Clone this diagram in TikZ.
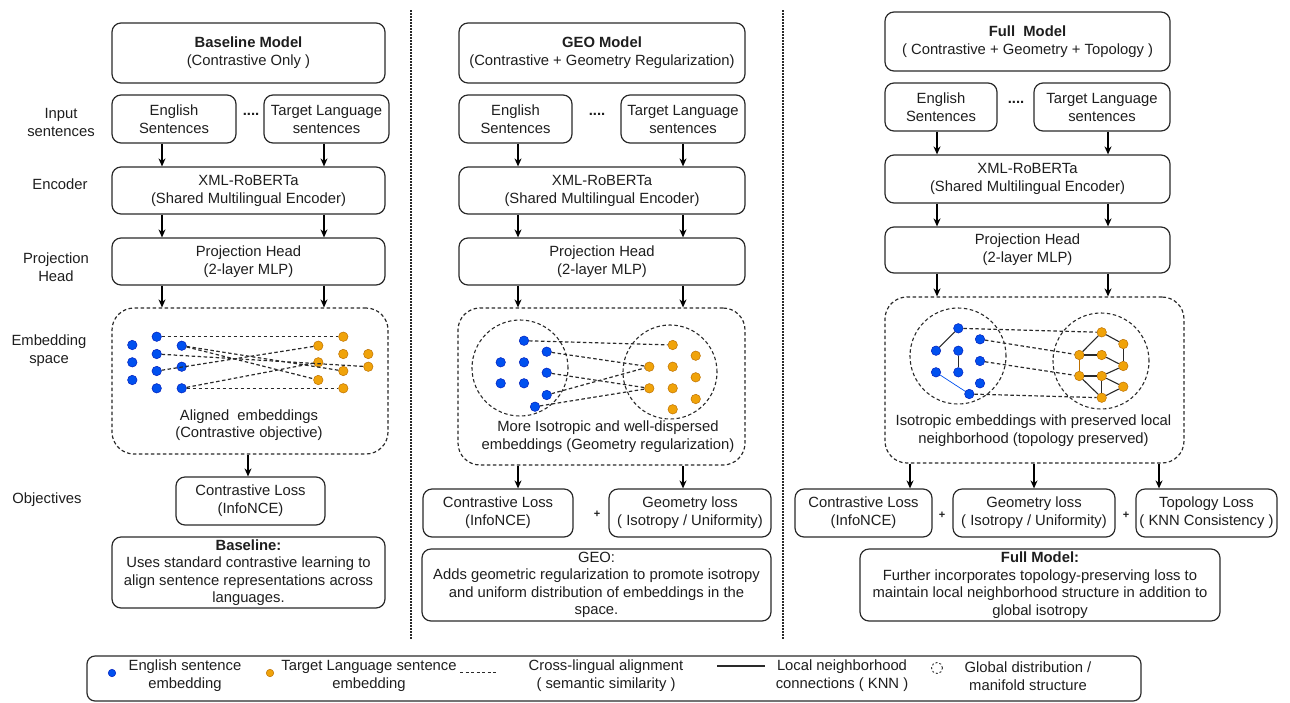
\documentclass[tikz,border=0pt]{standalone}
\usepackage{fontspec}
\setmainfont{Liberation Sans}
\usetikzlibrary{arrows.meta}
\definecolor{bfill}{HTML}{0050EF}
\definecolor{bdraw}{HTML}{001DBC}
\definecolor{ofill}{HTML}{F0A30A}
\definecolor{odraw}{HTML}{BD7000}
\definecolor{txt}{HTML}{1E1E1E}
\definecolor{ln}{HTML}{2A2A2A}
\newcommand\fs{\fontsize{14.8}{18}\selectfont}
\newcommand\fsd{\fontsize{14.8}{17.5}\selectfont}
\begin{document}
\begin{tikzpicture}[x=1pt,y=-1pt,
 box/.style={draw=ln, rounded corners=9pt, line width=1.2pt, align=center, inner sep=1pt, font=\fs, text=txt},
 descbox/.style={box, font=\fsd},
 embbox/.style={draw=ln, dash pattern=on 3.5pt off 2.5pt, rounded corners=22pt, line width=1.2pt},
 ring/.style={circle, draw=ln, dash pattern=on 3.5pt off 2.5pt, line width=1.1pt, inner sep=0pt},
 lbl/.style={align=center, font=\fs, text=txt, inner sep=0pt},
 bdot/.style={circle, fill=bfill, draw=bdraw, line width=0.5pt, inner sep=0pt, minimum size=9.5pt},
 odot/.style={circle, fill=ofill, draw=odraw, line width=0.5pt, inner sep=0pt, minimum size=9.5pt},
 xlink/.style={draw=ln, dash pattern=on 3.5pt off 2.5pt, line width=1.2pt},
 knn/.style={draw=ln, line width=1.1pt},
 arr/.style={draw=black, line width=1.2pt, -{Stealth[length=8pt,width=7pt]}},
 sep/.style={draw=ln, dash pattern=on 1.5pt off 1.5pt, line width=1.2pt},
 plus/.style={font=\fontsize{11}{13}\selectfont\bfseries, text=txt, inner sep=0pt},
]
\useasboundingbox (0,0) rectangle (1290,702);

% separators
\coordinate (s1a) at (411,10); \coordinate (s1b) at (411,640);
\coordinate (s2a) at (783,10); \coordinate (s2b) at (783,640);
\draw[sep] (s1a) -- (s1b);
\draw[sep] (s2a) -- (s2b);

% row labels
\node[lbl] (rInput) at (61,122) {Input\\sentences};
\node[lbl] (rEnc) at (60,184) {Encoder};
\node[lbl] (rProj) at (56,267) {Projection\\Head};
\node[lbl] (rEmb) at (49,351) {Embedding\\space};
\node[lbl] (rObj) at (47,500) {Objectives};

% ================= Baseline column
\node[box, minimum width=273, minimum height=60] (t1) at (248.5,53) {\textbf{Baseline Model}\\(Contrastive Only )};
\node[box, minimum width=124, minimum height=48] (e1) at (174,119) {English\\Sentences};
\node[box, minimum width=125, minimum height=48] (g1) at (326.5,119) {Target Language\\sentences};
\node[lbl] (dots1) at (251,114) {\textbf{....}};
\node[box, minimum width=273, minimum height=47] (enc1) at (248.5,190.5) {XML-RoBERTa\\(Shared Multilingual Encoder)};
\node[box, minimum width=273, minimum height=47] (proj1) at (248.5,261.5) {Projection Head\\(2-layer MLP)};
\node[embbox, minimum width=276, minimum height=146] (emb1) at (250,381) {};
\node[box, minimum width=149, minimum height=48] (cl1) at (250.5,501) {Contrastive Loss\\(InfoNCE)};
\node[descbox, minimum width=273, minimum height=71] (d1) at (248.5,572.5) {\textbf{Baseline:}\\Uses standard contrastive learning to\\align sentence representations across\\languages.};

\coordinate (xa1) at (162,0); \coordinate (xb1) at (324,0); \coordinate (xc1) at (248,0);
\draw[arr] (xa1 |- e1.south) -- (xa1 |- enc1.north);
\draw[arr] (xb1 |- g1.south) -- (xb1 |- enc1.north);
\draw[arr] (xa1 |- enc1.south) -- (xa1 |- proj1.north);
\draw[arr] (xb1 |- enc1.south) -- (xb1 |- proj1.north);
\draw[arr] (xa1 |- proj1.south) -- (xa1 |- emb1.north);
\draw[arr] (xb1 |- proj1.south) -- (xb1 |- emb1.north);
\draw[arr] (xc1 |- emb1.south) -- (xc1 |- cl1.north);

\foreach \n/\x/\y in {1/132.3/345,2/132.3/362.3,3/132.3/380,4/156.7/336.7,5/156.7/354,6/156.7/371,7/156.7/388.3,8/181.7/345.7,9/181.7/366.7,10/181.7/388.3}
  \node[bdot] (L\n) at (\x,\y) {};
\foreach \n/\x/\y in {1/343.3/336.7,2/318.3/345.7,3/343.3/354,4/368.3/354,5/318.3/362.3,6/368.3/366.7,7/343.3/371,8/318.3/380,9/343.3/388.3}
  \node[odot] (M\n) at (\x,\y) {};
\draw[xlink] (L4) -- (M1);
\draw[xlink] (L8) -- (M7);
\draw[xlink] (L8) -- (M8);
\draw[xlink] (L5) -- (M6);
\draw[xlink] (L6) -- (M2);
\draw[xlink] (L10) -- (M5);
\draw[xlink] (L10) -- (M9);
\node[lbl, font=\fontsize{14.8}{17}\selectfont] (cap1) at (249,425) {Aligned~~embeddings\\(Contrastive objective)};

% ================= GEO column
\node[box, minimum width=286, minimum height=60] (t2) at (602,53) {\textbf{GEO Model}\\(Contrastive + Geometry Regularization)};
\node[box, minimum width=113, minimum height=48] (e2) at (515.5,119) {English\\Sentences};
\node[box, minimum width=124, minimum height=48] (g2) at (683,119) {Target Language\\sentences};
\node[lbl] (dots2) at (597,114) {\textbf{....}};
\node[box, minimum width=286, minimum height=47] (enc2) at (602,190.5) {XML-RoBERTa\\(Shared Multilingual Encoder)};
\node[box, minimum width=286, minimum height=47] (proj2) at (602,261.5) {Projection Head\\(2-layer MLP)};
\node[embbox, minimum width=287, minimum height=157] (emb2) at (601.5,386.5) {};
\node[box, minimum width=150, minimum height=48] (cl2) at (498,513) {Contrastive Loss\\(InfoNCE)};
\node[plus] (p2) at (597,514) {+};
\node[box, minimum width=162, minimum height=48] (geo2) at (690,513) {Geometry loss\\( Isotropy / Uniformity)};
\node[descbox, minimum width=349, minimum height=72] (d2) at (596.5,585) {GEO:\\Adds geometric regularization to promote isotropy\\and uniform distribution of embeddings in the\\space.};

\coordinate (xa2) at (518,0); \coordinate (xb2) at (683,0);
\draw[arr] (xa2 |- e2.south) -- (xa2 |- enc2.north);
\draw[arr] (xb2 |- g2.south) -- (xb2 |- enc2.north);
\draw[arr] (xa2 |- enc2.south) -- (xa2 |- proj2.north);
\draw[arr] (xb2 |- enc2.south) -- (xb2 |- proj2.north);
\draw[arr] (xa2 |- proj2.south) -- (xa2 |- emb2.north);
\draw[arr] (xb2 |- proj2.south) -- (xb2 |- emb2.north);
\draw[arr] (xa2 |- emb2.south) -- (xa2 |- cl2.north);
\draw[arr] (xb2 |- emb2.south) -- (xb2 |- geo2.north);

\node[ring, minimum size=96] (c2l) at (520,368) {};
\node[ring, minimum size=94] (c2r) at (670,372) {};
\foreach \n/\x/\y in {1/524/340.7,2/546.7/351.7,3/500.7/362.3,4/524/362.3,5/546.7/372.7,6/500.7/383.3,7/524/383.3,8/546.7/395,9/535/406.7}
  \node[bdot] (P\n) at (\x,\y) {};
\foreach \n/\x/\y in {1/672.7/345,2/695.7/355.7,3/649.3/366.7,4/672.7/366.7,5/695.7/377.3,6/649.3/388.3,7/672.7/388.3,8/695.7/399,9/672.7/409.3}
  \node[odot] (Q\n) at (\x,\y) {};
\draw[xlink] (P1) -- (Q1);
\draw[xlink] (P2) -- (Q3);
\draw[xlink] (P5) -- (Q6);
\draw[xlink] (P8) -- (Q3);
\draw[xlink] (P9) -- (Q6);
\node[lbl] (cap2) at (608,437) {More Isotropic and well-dispersed\\embeddings (Geometry regularization)};

% ================= Full column
\node[box, minimum width=285, minimum height=59] (t3) at (1027.5,41.5) {\textbf{Full~~Model}\\( Contrastive + Geometry + Topology )};
\node[box, minimum width=112, minimum height=48] (e3) at (941,107) {English\\Sentences};
\node[box, minimum width=136, minimum height=48] (g3) at (1102,107) {Target Language\\sentences};
\node[lbl] (dots3) at (1016,102) {\textbf{....}};
\node[box, minimum width=285, minimum height=48] (enc3) at (1027.5,179) {XML-RoBERTa\\(Shared Multilingual Encoder)};
\node[box, minimum width=285, minimum height=46] (proj3) at (1027.5,250) {Projection Head\\(2-layer MLP)};
\node[embbox, minimum width=299, minimum height=166] (emb3) at (1034.5,380) {};
\node[box, minimum width=137, minimum height=48] (cl3) at (863.5,513) {Contrastive Loss\\(InfoNCE)};
\node[plus] (p3a) at (942,515) {+};
\node[box, minimum width=162, minimum height=48] (geo3) at (1034,513) {Geometry loss\\( Isotropy / Uniformity)};
\node[plus] (p3b) at (1126,515) {+};
\node[box, minimum width=141, minimum height=48] (top3) at (1206.5,513) {Topology Loss\\( KNN Consistency )};
\node[descbox, minimum width=360, minimum height=72] (d3) at (1040,585) {\textbf{Full Model:}\\Further incorporates topology-preserving loss to\\maintain local neighborhood structure in addition to\\global isotropy};

\coordinate (xa3) at (937,0); \coordinate (xb3) at (1108,0);
\coordinate (xc3) at (910,0); \coordinate (xd3) at (1034,0); \coordinate (xe3) at (1159,0);
\draw[arr] (xa3 |- e3.south) -- (xa3 |- enc3.north);
\draw[arr] (xb3 |- g3.south) -- (xb3 |- enc3.north);
\draw[arr] (xa3 |- enc3.south) -- (xa3 |- proj3.north);
\draw[arr] (xb3 |- enc3.south) -- (xb3 |- proj3.north);
\draw[arr] (xa3 |- proj3.south) -- (xa3 |- emb3.north);
\draw[arr] (xb3 |- proj3.south) -- (xb3 |- emb3.north);
\draw[arr] (xc3 |- emb3.south) -- (xc3 |- cl3.north);
\draw[arr] (xd3 |- emb3.south) -- (xd3 |- geo3.north);
\draw[arr] (xe3 |- emb3.south) -- (xe3 |- top3.north);

\node[ring, minimum size=96] (c3l) at (958,356) {};
\node[ring, minimum size=96] (c3r) at (1101,361) {};
\foreach \n/\x/\y in {1/958.3/328.3,2/980/339.3,3/936/350.7,4/958.3/350.7,5/980/361,6/936/372.3,7/958.3/372.3,8/980/383.3,9/969.3/394}
  \node[bdot] (B\n) at (\x,\y) {};
\foreach \n/\x/\y in {1/1101.7/332.3,2/1123.3/344,3/1079.3/355,4/1101.7/355,5/1123.3/366,6/1079.3/376,7/1101.7/376,8/1123.3/386.7,9/1101.7/397.7}
  \node[odot] (R\n) at (\x,\y) {};
\draw[xlink] (B1) -- (R1);
\draw[xlink] (B2) -- (R3);
\draw[xlink] (B5) -- (R6);
\draw[xlink] (B9) -- (R9);
\draw[knn] (B1) -- (B3);
\draw[knn] (B4) -- (B7);
\draw[knn, draw=bfill, line width=0.7pt] (B6) -- (B9);
\draw[knn] (R1) -- (R2);
\draw[knn] (R1) -- (R3);
\draw[knn] (R2) -- (R5);
\draw[knn] (R3) -- (R4);
\draw[knn] (R4) -- (R5);
\draw[knn, draw=odraw] (R3) -- (R6);
\draw[knn] (R6) -- (R7);
\draw[knn] (R7) -- (R5);
\draw[knn] (R7) -- (R8);
\draw[knn] (R6) -- (R9);
\draw[knn] (R7) -- (R9);
\draw[knn] (R9) -- (R8);
\node[lbl] (cap3) at (1033.5,431) {Isotropic embeddings with preserved local\\neighborhood (topology preserved)};

% ================= Legend
\node[draw=ln, rounded corners=8pt, line width=1.2pt, minimum width=1054, minimum height=45, inner sep=0pt] (leg) at (614,678.5) {};
\node[bdot, minimum size=7.5pt] (lgb) at (112,673) {};
\node[lbl] (lgbt) at (185,676) {English sentence\\embedding};
\node[odot, minimum size=7.5pt] (lgo) at (270,673) {};
\node[lbl] (lgot) at (369,676) {Target Language sentence\\embedding};
\coordinate (ld1) at (460,672); \coordinate (ld2) at (497,672);
\draw[xlink, line width=1pt, dash pattern=on 3pt off 2.5pt] (ld1) -- (ld2);
\node[lbl] (lgdt) at (606,676) {Cross-lingual alignment\\( semantic similarity )};
\coordinate (ls1) at (717,666); \coordinate (ls2) at (765,666);
\draw[knn] (ls1) -- (ls2);
\node[lbl] (lgst) at (842,676) {Local neighborhood\\connections ( KNN )};
\node[ring, minimum size=11, line width=0.9pt, dash pattern=on 2pt off 2pt] (lgc) at (937,668) {};
\node[lbl] (lgct) at (1028,676) {Global distribution /\\manifold structure};
\end{tikzpicture}
\end{document}
